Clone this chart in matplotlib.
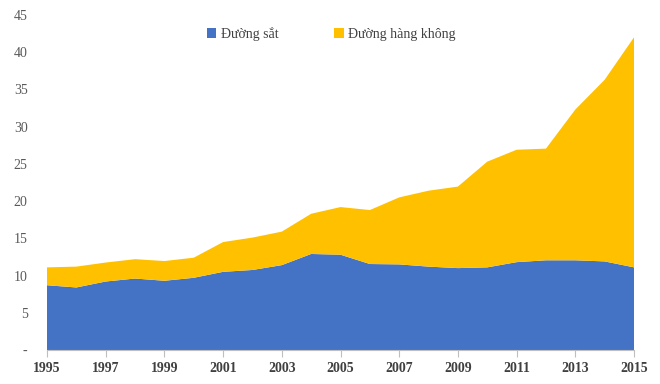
import matplotlib
matplotlib.use("Agg")
import matplotlib.pyplot as plt
from matplotlib.patches import Patch

years = list(range(1995, 2016))
rail = [8.7, 8.4, 9.2, 9.6, 9.3, 9.7, 10.5, 10.75, 11.4, 12.9, 12.8,
        11.55, 11.5, 11.2, 11.0, 11.1, 11.8, 12.05, 12.05, 11.9, 11.1]
total = [11.1, 11.2, 11.75, 12.2, 11.95, 12.4, 14.5, 15.1, 15.9, 18.3, 19.2,
         18.8, 20.5, 21.4, 21.95, 25.3, 26.9, 27.05, 32.3, 36.3, 42.0]
air = [t - r for t, r in zip(total, rail)]
series_names = ["Đường sắt", "Đường hàng không"]
colors = ["#4472C4", "#FFC000"]
yticks = list(range(0, 50, 5))
ytick_labels = ["-"] + [str(v) for v in yticks[1:]]
xticks = list(range(1995, 2016, 2))

plt.rcParams['font.family'] = ['Liberation Serif', 'DejaVu Serif']

fig = plt.figure(figsize=(6.6, 3.84), dpi=100)
ax = fig.add_axes([47/660, 1 - 350/384, (634 - 47)/660, (350 - 15)/384])
ax.stackplot(years, rail, air, colors=colors, linewidth=0)

ax.set_xlim(1995, 2015)
ax.set_ylim(0, 45)
ax.set_yticks(yticks)
ax.set_yticklabels(ytick_labels, fontsize=10, color="#595959")
ax.set_xticks(xticks)
ax.set_xticklabels([str(x) for x in xticks], fontsize=10, fontweight="bold", color="#404040")
ax.tick_params(axis="y", length=0, pad=14)
ax.tick_params(axis="x", length=5, direction="out", color="#BFBFBF", pad=4)
for s in ["top", "right", "left"]:
    ax.spines[s].set_visible(False)
ax.spines["bottom"].set_color("#BFBFBF")

handles = [Patch(facecolor=c, edgecolor="none") for c in colors]
fig.legend(handles, series_names, loc="center", bbox_to_anchor=(331/660, 1 - 34/384),
           ncol=2, frameon=False, fontsize=10, handlelength=0.7, handleheight=0.7,
           handletextpad=0.3, columnspacing=4.0, labelcolor="#404040")

fig.savefig("out.png", dpi=100)
